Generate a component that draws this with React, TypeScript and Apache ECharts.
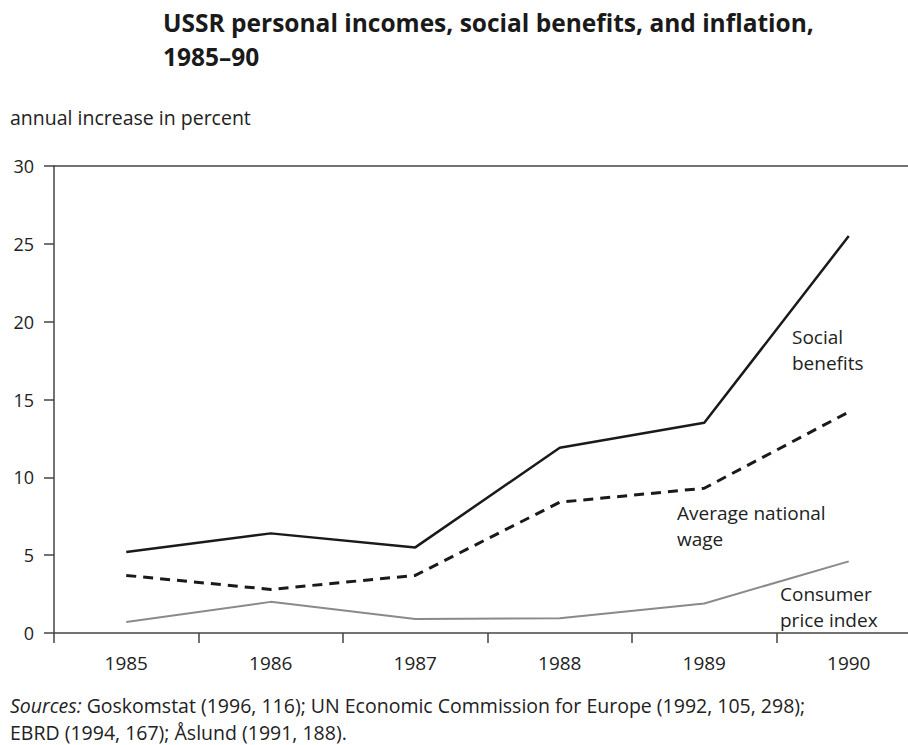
import React, { useEffect, useRef } from "react";
import * as echarts from "echarts";

const years = ["1985", "1986", "1987", "1988", "1989", "1990"];
const socialBenefits = [5.2, 6.4, 5.5, 11.9, 13.5, 25.5];
const averageWage = [3.7, 2.8, 3.7, 8.4, 9.3, 14.2];
const consumerPrices = [0.7, 2.0, 0.9, 0.95, 1.9, 4.6];
const yTicks = [0, 5, 10, 15, 20, 25, 30];

const FONT = "'Open Sans', 'Noto Sans', sans-serif";
const TEXT = "#222222";

export default function App() {
  const ref = useRef<HTMLDivElement>(null);
  useEffect(() => {
    if (!ref.current) return;
    const chart = echarts.init(ref.current, undefined, { renderer: "svg" });
    chart.setOption({
      animation: false,
      backgroundColor: "#ffffff",
      textStyle: { fontFamily: FONT, color: TEXT },
      grid: { left: 54, right: 0, top: 166, bottom: 112, containLabel: false },
      xAxis: [
        {
          type: "category",
          data: years,
          boundaryGap: true,
          position: "bottom",
          axisLine: { show: true, lineStyle: { color: "#444", width: 1.5 } },
          axisTick: { show: true, length: 10, inside: false, lineStyle: { color: "#444", width: 1.5 } },
          axisLabel: { fontFamily: FONT, fontSize: 19, color: TEXT, margin: 20 },
          splitLine: { show: false },
        },
        {
          type: "category",
          data: years,
          position: "top",
          axisLine: { show: true, lineStyle: { color: "#444", width: 1.5 } },
          axisTick: { show: false },
          axisLabel: { show: false },
          splitLine: { show: false },
        },
      ],
      yAxis: {
        type: "value",
        min: yTicks[0],
        max: yTicks[yTicks.length - 1],
        interval: 5,
        axisLine: { show: true, lineStyle: { color: "#444", width: 1.5 } },
        axisTick: { show: true, length: 10, lineStyle: { color: "#444", width: 1.5 } },
        axisLabel: { fontFamily: FONT, fontSize: 18, color: TEXT, margin: 20 },
        splitLine: { show: false },
      },
      series: [
        {
          name: "Social benefits",
          type: "line",
          data: socialBenefits,
          symbol: "none",
          lineStyle: { color: "#1a1a1a", width: 2.5 },
        },
        {
          name: "Average national wage",
          type: "line",
          data: averageWage,
          symbol: "none",
          lineStyle: { color: "#1a1a1a", width: 3, type: [10, 7] },
        },
        {
          name: "Consumer price index",
          type: "line",
          data: consumerPrices,
          symbol: "none",
          lineStyle: { color: "#8a8a8a", width: 2 },
        },
      ],
      graphic: [
        {
          type: "text",
          left: 163,
          top: 6,
          style: {
            text: "USSR personal incomes, social benefits, and inflation,\n1985–90",
            font: `bold 24.5px ${FONT}`,
            fill: "#1a1a1a",
            lineHeight: 33.5,
          },
        },
        {
          type: "text",
          left: 10,
          top: 105,
          style: { text: "annual increase in percent", font: `19.5px ${FONT}`, fill: TEXT, lineHeight: 24 },
        },
        {
          type: "text",
          left: 792,
          top: 324,
          style: { text: "Social\nbenefits", font: `19px ${FONT}`, fill: TEXT, lineHeight: 26 },
        },
        {
          type: "text",
          left: 677,
          top: 500,
          style: { text: "Average national\nwage", font: `19px ${FONT}`, fill: TEXT, lineHeight: 26 },
        },
        {
          type: "text",
          left: 780,
          top: 581,
          style: { text: "Consumer\nprice index", font: `19px ${FONT}`, fill: TEXT, lineHeight: 26 },
        },
        {
          type: "text",
          left: 10,
          top: 692,
          style: {
            text:
              "{i|Sources:} Goskomstat (1996, 116); UN Economic Commission for Europe (1992, 105, 298);\nEBRD (1994, 167); Åslund (1991, 188).",
            font: `19.5px ${FONT}`,
            fill: TEXT,
            lineHeight: 27,
            rich: {
              i: { fontStyle: "italic", fontFamily: FONT, fontSize: 19.5, fill: TEXT, lineHeight: 27 },
            },
          },
        },
      ],
    });
    return () => chart.dispose();
  }, []);
  return (
    <div style={{ position: "fixed", left: 0, top: 0, width: 908, height: 745, overflow: "hidden" }}>
      <div ref={ref} style={{ width: 921, height: 745 }} />
    </div>
  );
}
